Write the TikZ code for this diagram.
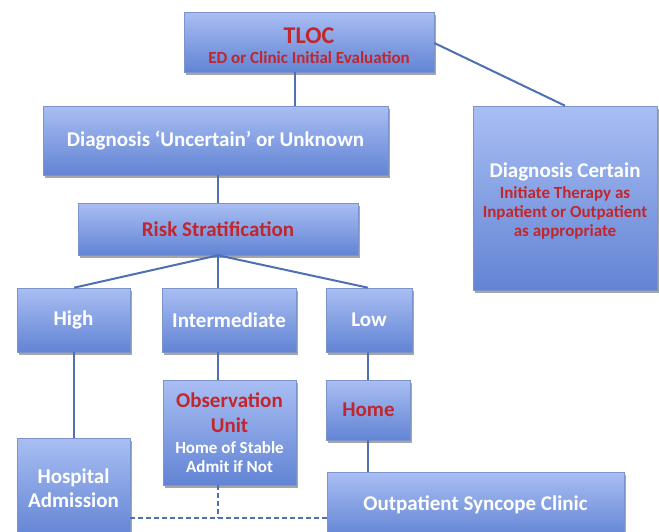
\documentclass[tikz,border=0pt]{standalone}
\usepackage{fontspec}
\setmainfont{Carlito}
\usetikzlibrary{shadows}
\definecolor{boxtop}{HTML}{A9BEF3}
\definecolor{boxbot}{HTML}{6284D4}
\definecolor{boxedge}{HTML}{7C93CC}
\definecolor{linkc}{HTML}{4E70B2}
\definecolor{redtxt}{HTML}{C0262C}
\newcommand{\fsz}[1]{\fontsize{#1}{\numexpr#1*6/5\relax}\selectfont}
\tikzset{
  box/.style={rectangle, draw=boxedge, line width=0.6pt, top color=boxtop, bottom color=boxbot,
    text=white, align=center, inner sep=2pt,
    drop shadow={shadow xshift=1.5pt, shadow yshift=-2.5pt, fill=black, opacity=0.35}},
  big/.style={font=\bfseries\fontsize{21}{24}\selectfont},
  small/.style={font=\bfseries\fontsize{17}{19}\selectfont},
  link/.style={draw=linkc, line width=2pt},
  dlink/.style={draw=linkc, line width=2pt, dash pattern=on 5pt off 3pt}
}
\begin{document}
\begin{tikzpicture}[x=1pt,y=-1pt]
\useasboundingbox (0,0) rectangle (659,531);
\clip (0,0) rectangle (659,531);
\fill[white] (0,0) rectangle (659,531);
% nodes
\node[box, font=\bfseries\fontsize{17}{20}\selectfont, text=redtxt, minimum width=250pt, minimum height=60pt] (tloc) at (309,42)
  {\rule{0pt}{23pt}\fsz{24}TLOC\\\fsz{17}ED or Clinic Initial Evaluation};
\node[box, big, minimum width=345pt, minimum height=69pt] (unc) at (215.5,140.5)
  {Diagnosis ‘Uncertain’ or Unknown};
\node[box, small, minimum width=184pt, minimum height=184pt] (cert) at (565,198)
  {\rule{0pt}{21pt}\fsz{21}Diagnosis Certain\\[2pt]\textcolor{redtxt}{Initiate Therapy as}\\\textcolor{redtxt}{Inpatient or Outpatient}\\\textcolor{redtxt}{as appropriate}};
\node[box, big, text=redtxt, minimum width=280pt, minimum height=52pt] (risk) at (218,229)
  {Risk Stratification};
\node[box, big, minimum width=113pt, minimum height=64pt] (high) at (73.5,320) {High};
\node[box, big, minimum width=134pt, minimum height=64pt] (inter) at (229,320) {Intermediate};
\node[box, big, minimum width=86pt, minimum height=64pt] (low) at (369,320) {Low};
\node[box, small, minimum width=133pt, minimum height=105pt] (obs) at (229.5,432.5)
  {\textcolor{redtxt}{\fsz{21}Observation}\\[6pt]\textcolor{redtxt}{\fsz{21}Unit}\\[2pt]Home of Stable\\Admit if Not};
\node[box, big, text=redtxt, minimum width=84pt, minimum height=60pt] (home) at (368.5,410)
  {Home};
\node[box, big, minimum width=113pt, minimum height=100pt] (hosp) at (73.5,488)
  {Hospital\\Admission};
\node[box, big, minimum width=297pt, minimum height=66pt] (outp) at (475.5,505)
  {Outpatient Syncope Clinic};
% helper coordinates
\coordinate (c1) at (295,0);
\coordinate (c2) at (218,0);
\coordinate (c3) at (74,0);
\coordinate (c4) at (368,0);
\coordinate (dy) at (0,518);
% connectors
\draw[link] (tloc.south -| c1) -- (unc.north -| c1);
\draw[link] ([yshift=-1pt]tloc.east) -- (cert.north);
\draw[link] (unc.south -| c2) -- (risk.north -| c2);
\draw[link] (risk.south -| c2) -- (high.north -| c3);
\draw[link] (risk.south -| c2) -- (inter.north -| c2);
\draw[link] (risk.south -| c2) -- (low.north -| c4);
\draw[link] (high.south -| c3) -- (hosp.north -| c3);
\draw[link] (inter.south -| c2) -- (obs.north -| c2);
\draw[link] (low.south -| c4) -- (home.north -| c4);
\draw[link] (home.south -| c4) -- (outp.north -| c4);
\draw[dlink] (hosp.east |- dy) -- (outp.west |- dy);
\draw[dlink] (obs.south -| c2) -- (c2 |- dy);
\end{tikzpicture}
\end{document}
